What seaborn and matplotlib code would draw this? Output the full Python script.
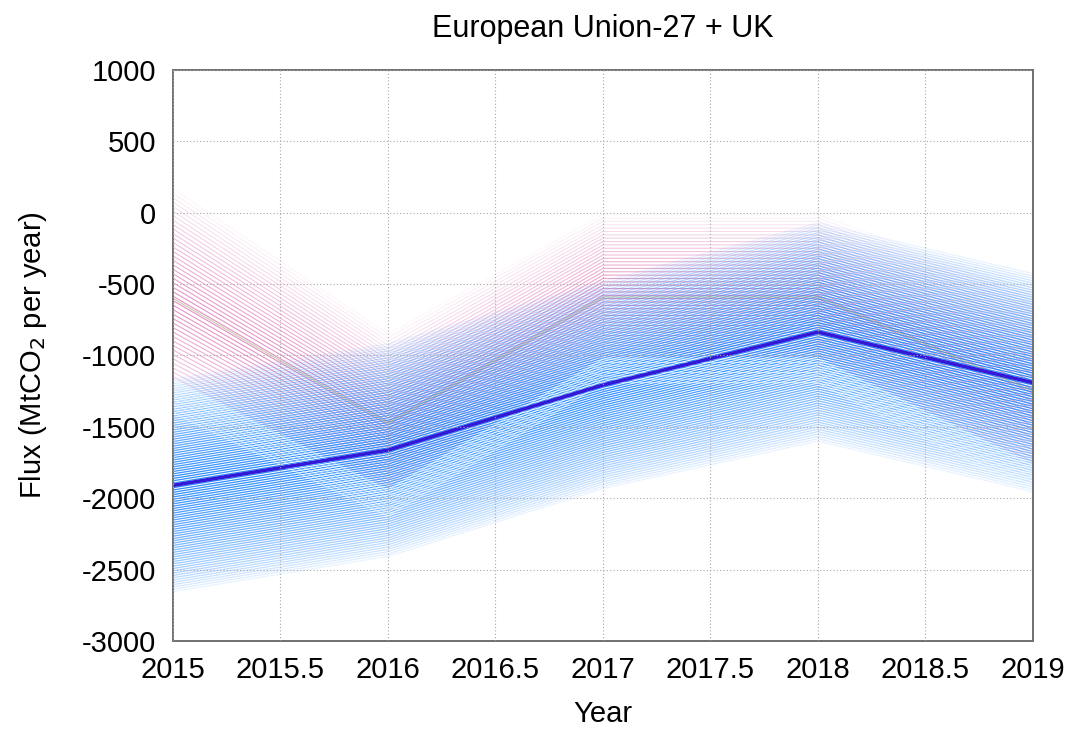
import numpy as np
import pandas as pd
import matplotlib
matplotlib.use("Agg")
import matplotlib.pyplot as plt
import seaborn as sns

# Annual net CO2 flux, EU-27 + UK (MtCO2 per year)
years = [2015, 2016, 2017, 2018, 2019]

# Inversion ensemble (blue): central estimate and half-width of the member spread
inv_center = [-1910, -1663, -1207, -836, -1190]
inv_spread = [760, 760, 740, 780, 780]

# Inventory-based ensemble (pink): central estimate and half-width of the member spread
inv2_center = [-600, -1475, -590, -590, -1250]
inv2_spread = [800, 650, 600, 600, 720]

n_inv = 95
n_inv2 = 52

xticks = [2015, 2015.5, 2016, 2016.5, 2017, 2017.5, 2018, 2018.5, 2019]
yticks = [-3000, -2500, -2000, -1500, -1000, -500, 0, 500, 1000]

sns.set_theme(style="white")
plt.rcParams["font.family"] = ["Liberation Sans", "DejaVu Sans"]

fig = plt.figure(figsize=(10.85, 7.29), dpi=100)
ax = fig.add_axes([0.1594, 0.1207, 0.7926, 0.7833])

c_inv = np.array(inv_center, float)
s_inv = np.array(inv_spread, float)
c_i2 = np.array(inv2_center, float)
s_i2 = np.array(inv2_spread, float)
k_i2 = np.linspace(-1, 1, n_inv2)

# pink fan of ensemble members (upper and central members)
for k in k_i2[k_i2 >= -0.7]:
    member = c_i2 + k * s_i2
    a = 0.6 * (1 - abs(k)) ** 0.8
    sns.lineplot(x=years, y=member, ax=ax, color="#d2449e", alpha=a,
                 lw=0.8, legend=False)

# blue fan of ensemble members
for k in np.linspace(-1, 1, n_inv):
    a = 0.95 * (1 - abs(k)) ** 0.6
    member = c_inv + k * s_inv
    sns.lineplot(x=years, y=member, ax=ax, color="#1f86ff", alpha=a,
                 lw=0.9, legend=False)

# lowest members of the pink ensemble show up as pale lines over the blue
for k in k_i2[k_i2 < -0.7]:
    member = c_i2 + k * s_i2
    sns.lineplot(x=years, y=member, ax=ax, color="#eafcff", alpha=0.6,
                 lw=0.8, legend=False)

# central estimates
sns.lineplot(x=years, y=inv2_center, ax=ax, color="#8f9a55", lw=0.8,
             alpha=0.5, legend=False)
sns.lineplot(x=years, y=inv_center, ax=ax, color="#3418d8", lw=2.6,
             legend=False)

ax.set_xlim(2015, 2019)
ax.set_ylim(-3000, 1000)
ax.set_xticks(xticks)
ax.set_xticklabels([f"{t:g}" for t in xticks])
ax.set_yticks(yticks)
ax.set_yticklabels([str(t) for t in yticks])
ax.grid(True, color="#a8a8a8", linestyle=(0, (1, 2)), linewidth=0.8)
ax.set_axisbelow(False)
for sp in ax.spines.values():
    sp.set_color("#707070")
    sp.set_linewidth(1.4)
ax.tick_params(axis="both", labelsize=21, length=4, direction="in",
               colors="#707070", labelcolor="black")
ax.tick_params(axis="y", pad=12)
ax.tick_params(axis="x", pad=11)

ax.set_title("European Union-27 + UK", fontsize=22, pad=24, color="black")
ax.set_xlabel("Year", fontsize=21, labelpad=11, color="black")
ax.set_ylabel("Flux (MtCO$_2$ per year)", fontsize=21, labelpad=24,
              color="black")

fig.savefig("out.png", dpi=100)
